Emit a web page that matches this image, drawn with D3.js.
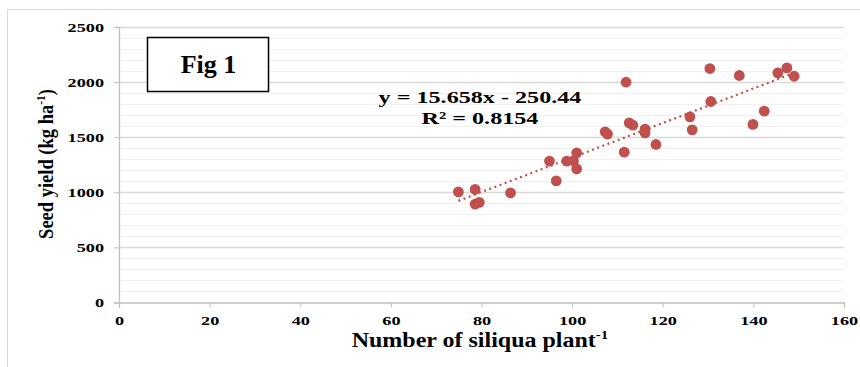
<!DOCTYPE html>
<html>
<head>
<meta charset="utf-8">
<script src="https://cdn.jsdelivr.net/npm/d3@7"></script>
<style>
  html, body { margin: 0; padding: 0; background: #fff; }
  svg { display: block; font-family: "Liberation Serif", "Times New Roman", serif; }
</style>
</head>
<body>
<svg id="chart" width="860" height="367"></svg>
<script>
// Siliqua count per plant vs. seed yield (kg/ha)
const siliqua = [74.9, 78.6, 78.6, 79.5, 86.4, 95.0, 96.5, 98.8, 100.3, 101.0,
                 101.0, 107.3, 107.8, 111.9, 111.5, 112.6, 113.4, 116.1, 116.1, 118.5,
                 126.0, 126.5, 130.4, 130.6, 136.9, 139.9, 142.4, 145.4, 147.4, 149.0];
const seedYield = [1004, 1026, 893, 908, 995, 1283, 1104, 1283, 1286, 1358,
                   1213, 1549, 1528, 1999, 1364, 1630, 1609, 1573, 1539, 1434,
                   1685, 1567, 2123, 1824, 2060, 1616, 1736, 2084, 2129, 2053];
const xTicks = [0, 20, 40, 60, 80, 100, 120, 140, 160];
const yTicks = [0, 500, 1000, 1500, 2000, 2500];
const yMinor = d3.range(0, 2501, 100);
const slope = 15.658, intercept = -250.44, rSquared = 0.8154;

const svg = d3.select("#chart");
const plotL = 119, plotR = 844, plotT = 27, plotB = 302.5;
const x = d3.scaleLinear().domain([0, 160]).range([plotL, plotR]);
const y = d3.scaleLinear().domain([0, 2500]).range([plotB, plotT]);
const red = "#c0504d";
const wide = 1.35;   // horizontal stretch of the label type

// outer chart frame
svg.append("rect").attr("x", 7.5).attr("y", 9.5).attr("width", 900).attr("height", 400)
  .attr("fill", "none").attr("stroke", "#d9d9d9").attr("stroke-width", 1);

// gridlines: minor every 100, major every 500
svg.append("g").selectAll("line").data(yMinor.filter(v => v % 500 !== 0)).join("line")
  .attr("x1", plotL).attr("x2", plotR)
  .attr("y1", d => Math.round(y(d)) + 0.5).attr("y2", d => Math.round(y(d)) + 0.5)
  .attr("stroke", "#f0f0f0").attr("stroke-width", 1);
svg.append("g").selectAll("line").data(yTicks.filter(v => v > 0)).join("line")
  .attr("x1", plotL).attr("x2", plotR)
  .attr("y1", d => Math.round(y(d)) + 0.5).attr("y2", d => Math.round(y(d)) + 0.5)
  .attr("stroke", "#d9d9d9").attr("stroke-width", 1.3);

// axes
const xAxis = svg.append("g").attr("transform", `translate(0,${plotB})`)
  .call(d3.axisBottom(x).tickValues(xTicks).tickSize(5).tickPadding(8).tickFormat(d3.format("d")));
const yAxis = svg.append("g").attr("transform", `translate(${plotL},0)`)
  .call(d3.axisLeft(y).tickValues(yTicks).tickSize(5).tickPadding(10).tickFormat(d3.format("d")));
[xAxis, yAxis].forEach(g => {
  g.select(".domain").attr("stroke", "#bfbfbf").attr("stroke-width", 1.3);
  g.selectAll(".tick line").attr("stroke", "#bfbfbf");
  g.selectAll(".tick text").attr("fill", "#000").attr("font-size", 13.5)
    .attr("font-weight", "bold").attr("font-family", "Liberation Serif")
    .attr("transform", `scale(${wide},1)`);
});
yAxis.selectAll(".tick text").attr("x", -15 / wide);

// trend line over the observed range
const xr = d3.extent(siliqua);
svg.append("line")
  .attr("x1", x(xr[0])).attr("y1", y(slope * xr[0] + intercept))
  .attr("x2", x(xr[1])).attr("y2", y(slope * xr[1] + intercept))
  .attr("stroke", red).attr("stroke-width", 2.2)
  .attr("stroke-dasharray", "2,3.5");

// observations
svg.append("g").selectAll("circle").data(siliqua).join("circle")
  .attr("cx", (d, i) => x(d)).attr("cy", (d, i) => y(seedYield[i]))
  .attr("r", 5.4).attr("fill", red);

// regression label
const eq = svg.append("g").attr("transform", `translate(480,0) scale(1.38,1)`)
  .append("text").attr("font-weight", "bold").attr("font-size", 17.5)
  .attr("text-anchor", "middle").attr("fill", "#000");
eq.append("tspan").attr("x", 0).attr("y", 103)
  .text(`y = ${slope}x - ${Math.abs(intercept)}`);
eq.append("tspan").attr("x", 0).attr("y", 124)
  .text(`R² = ${rSquared}`);

// figure tag
svg.append("rect").attr("x", 147.5).attr("y", 37.5).attr("width", 121).attr("height", 54)
  .attr("fill", "#fff").attr("stroke", "#000").attr("stroke-width", 1.5);
svg.append("text").attr("x", 208.5).attr("y", 73).attr("text-anchor", "middle")
  .attr("font-weight", "bold").attr("font-size", 26).text("Fig 1");

// axis titles
const xt = svg.append("g").attr("transform", "translate(480,347) scale(1.2,1)")
  .append("text").attr("text-anchor", "middle")
  .attr("font-weight", "bold").attr("font-size", 20);
xt.append("tspan").text("Number of siliqua plant");
xt.append("tspan").attr("font-size", 12.5).attr("dy", -8).text("-1");

const yt = svg.append("text").attr("transform", "translate(53,164) rotate(-90) scale(1,1.15)")
  .attr("text-anchor", "middle").attr("font-weight", "bold").attr("font-size", 18.5);
yt.append("tspan").text("Seed yield (kg ha");
yt.append("tspan").attr("font-size", 11.5).attr("dy", -7).text("-1");
yt.append("tspan").attr("dy", 7).text(")");
</script>
</body>
</html>
